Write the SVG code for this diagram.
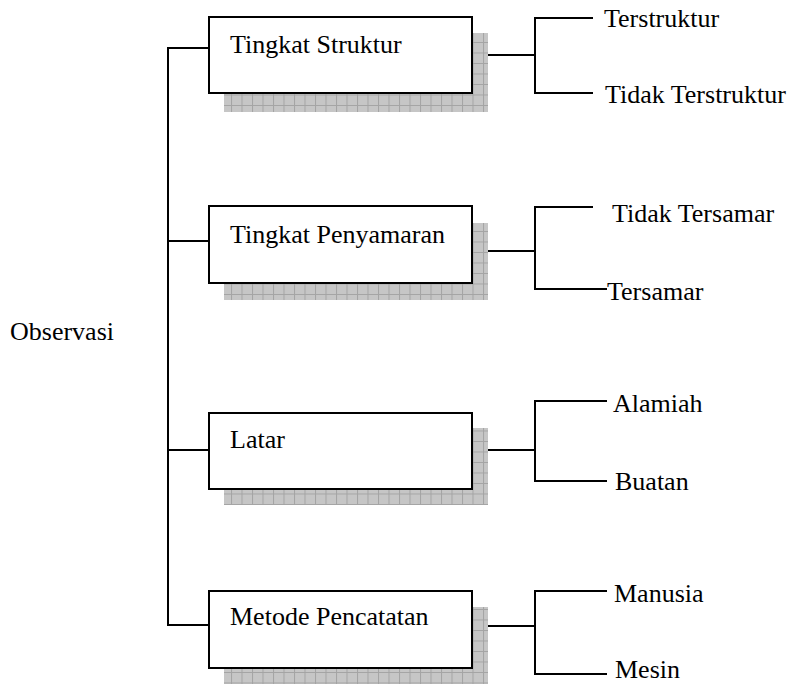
<svg xmlns="http://www.w3.org/2000/svg" width="795" height="684" viewBox="0 0 795 684">
<style>
text{font-family:'Liberation Serif','Times New Roman',serif;font-size:26px;fill:#000}
.box{fill:#fff;stroke:#000;stroke-width:2}
.sh{fill:url(#grid)}
.ln{fill:none;stroke:#000;stroke-width:2}
</style>
<defs>
<pattern id="grid" width="10.5" height="10.5" patternUnits="userSpaceOnUse">
<rect width="10.5" height="10.5" fill="#c6c6c6"/>
<path d="M0 0.5H10.5M0.5 0V10.5" stroke="#a4a4a4" stroke-width="1"/>
</pattern>
</defs>
<rect width="795" height="684" fill="#fff"/>
<g id="observasi"><text x="10" y="340">Observasi</text></g>
<g id="connectors">
<path class="ln" d="M208 48H168V625H208M168 241H208M168 450H208"/>
<path class="ln" d="M472 55H535M593 18H535V93H593"/>
<path class="ln" d="M472 251H535M593 207H535V289H607"/>
<path class="ln" d="M472 450H535M607 401H535V481H607"/>
<path class="ln" d="M472 626H535M607 591H535V674H607"/>
</g>
<g id="n-struktur">
<rect class="sh" x="224" y="33" width="264" height="79"/>
<rect class="box" x="209" y="17" width="263" height="76"/>
<text x="230" y="53">Tingkat Struktur</text>
</g>
<g id="n-penyamaran">
<rect class="sh" x="224" y="223" width="264" height="77"/>
<rect class="box" x="209" y="206" width="263" height="77"/>
<text x="230" y="243">Tingkat Penyamaran</text>
</g>
<g id="n-latar">
<rect class="sh" x="224" y="428" width="264" height="77"/>
<rect class="box" x="209" y="413" width="263" height="76"/>
<text x="230" y="448">Latar</text>
</g>
<g id="n-metode">
<rect class="sh" x="224" y="607" width="264" height="77"/>
<rect class="box" x="209" y="591" width="263" height="77"/>
<text x="230" y="625">Metode Pencatatan</text>
</g>
<g id="n-terstruktur"><text x="604" y="27">Terstruktur</text></g>
<g id="n-tidakterstruktur"><text x="605" y="103">Tidak Terstruktur</text></g>
<g id="n-tidaktersamar"><text x="612" y="222">Tidak Tersamar</text></g>
<g id="n-tersamar"><text x="607" y="300">Tersamar</text></g>
<g id="n-alamiah"><text x="613" y="412">Alamiah</text></g>
<g id="n-buatan"><text x="615" y="490">Buatan</text></g>
<g id="n-manusia"><text x="614" y="602">Manusia</text></g>
<g id="n-mesin"><text x="615" y="678">Mesin</text></g>
</svg>
